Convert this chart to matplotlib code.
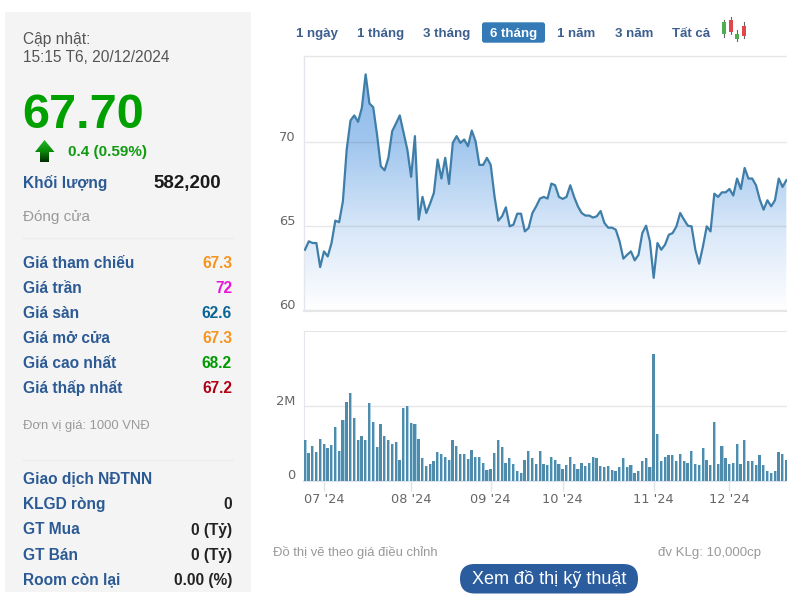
import matplotlib
matplotlib.use("Agg")
import matplotlib.pyplot as plt
import numpy as np
from matplotlib.colors import LinearSegmentedColormap
from matplotlib.patches import FancyBboxPatch, Polygon, Rectangle

plt.rcParams["font.family"] = ["Liberation Sans", "DejaVu Sans"]

W, H = 787, 601

prices = [
    63.59, 64.09, 63.99, 63.99, 62.56, 63.49, 63.19, 63.99, 65.32, 65.22, 66.47, 69.54, 71.27, 71.57, 71.19, 72.02,
    74.01, 72.28, 72.06, 70.44, 68.55, 68.31, 69.05, 70.63, 71.09, 71.57, 70.54, 69.54, 67.92, 70.34, 65.38, 66.73,
    65.77, 66.33, 66.96, 68.95, 67.82, 69.05, 67.50, 69.94, 70.34, 69.94, 70.14, 69.74, 70.67, 70.04, 68.63, 68.63,
    69.05, 68.63, 66.77, 65.32, 65.58, 66.11, 64.98, 65.08, 65.73, 65.73, 64.68, 64.88, 65.77, 66.17, 66.63, 66.73,
    66.63, 67.52, 67.42, 66.73, 66.61, 66.73, 67.42, 66.73, 66.17, 65.77, 65.62, 65.62, 65.50, 65.58, 65.89, 65.18,
    64.90, 64.90, 64.78, 64.09, 63.06, 63.29, 63.49, 62.96, 63.29, 64.58, 65.02, 64.09, 61.92, 63.99, 63.59, 63.89,
    64.48, 64.58, 64.98, 65.77, 65.38, 65.02, 64.98, 63.59, 62.76, 63.79, 64.98, 64.68, 66.92, 66.73, 67.00, 67.00,
    67.20, 66.81, 67.82, 67.20, 68.45, 67.82, 67.82, 67.42, 66.57, 65.97, 66.53, 66.17, 66.53, 67.82, 67.32, 67.72,
]
volumes = [
    1.09, 0.74, 0.93, 0.77, 1.12, 1.00, 0.87, 0.97, 1.45, 0.81, 1.64, 2.13, 2.35, 1.68, 1.09, 1.19,
    1.09, 2.10, 1.58, 0.91, 1.52, 1.19, 1.09, 1.00, 1.03, 0.55, 1.97, 2.00, 1.54, 1.52, 1.13, 0.61,
    0.39, 0.45, 0.52, 0.77, 0.71, 0.65, 0.55, 1.09, 0.93, 0.71, 0.71, 0.58, 0.83, 0.65, 0.65, 0.48,
    0.29, 0.32, 0.74, 1.09, 0.91, 0.48, 0.61, 0.45, 0.26, 0.22, 0.55, 0.81, 0.61, 0.45, 0.81, 0.45,
    0.42, 0.65, 0.55, 0.45, 0.32, 0.42, 0.65, 0.45, 0.32, 0.48, 0.39, 0.48, 0.65, 0.61, 0.39, 0.36,
    0.39, 0.29, 0.26, 0.36, 0.61, 0.36, 0.42, 0.22, 0.26, 0.52, 0.61, 0.36, 3.40, 1.26, 0.52, 0.65,
    0.68, 0.68, 0.52, 0.71, 0.52, 0.48, 0.81, 0.45, 0.42, 0.87, 0.55, 0.42, 1.58, 0.45, 0.93, 0.61,
    0.45, 0.48, 1.00, 0.45, 1.09, 0.52, 0.52, 0.42, 0.68, 0.42, 0.26, 0.20, 0.26, 0.77, 0.71, 0.55,
]
month_idx = [5, 28, 49, 68, 92, 112]
month_labels = ["07 '24", "08 '24", "09 '24", "10 '24", "11 '24", "12 '24"]

range_labels = ["1 ngày", "1 tháng", "3 tháng", "6 tháng", "1 năm", "3 năm", "Tất cả"]
range_x = [317, 381, 447, 513.5, 576, 633.7, 691]

info_labels = ["Giá tham chiếu", "Giá trần", "Giá sàn", "Giá mở cửa", "Giá cao nhất", "Giá thấp nhất"]
info_values = ["67.3", "72", "62.6", "67.3", "68.2", "67.2"]
info_colors = ["#f7941d", "#e815d8", "#0a6496", "#f7941d", "#009a00", "#b00014"]

foreign_labels = ["Giao dịch NĐTNN", "KLGD ròng", "GT Mua", "GT Bán", "Room còn lại"]
foreign_values = ["", "0", "0 (Tỷ)", "0 (Tỷ)", "0.00 (%)"]

NAVY = "#2c5a94"
GRID = "#e6e6e6"
LINE = "#3f7ea8"
AXIS_TEXT = "#666666"
XPAD = 3.79


def px_axes(fig, left, top, right, bottom):
    return fig.add_axes([left / W, 1 - bottom / H, (right - left) / W, (bottom - top) / H])


def y_label(ax, text, value):
    # labels sit just above their gridline, not centred on it
    ax.annotate(text, (0, value), xycoords=ax.get_yaxis_transform(), xytext=(-6, -1.2),
                textcoords="offset points", ha="right", va="bottom", fontsize=9.4,
                color=AXIS_TEXT, family="DejaVu Sans", annotation_clip=False)


fig = plt.figure(figsize=(W / 100, H / 100), dpi=100, facecolor="white")

# page layer in pixel coordinates
bg = fig.add_axes([0, 0, 1, 1], zorder=0)
bg.set_xlim(0, W)
bg.set_ylim(H, 0)
bg.axis("off")

bg.add_patch(Rectangle((5, 12), 246, 580, fc="#f4f4f4", ec="none"))
bg.text(23, 44.3, "Cập nhật:", fontsize=11.2, color="#555555")
bg.text(23, 62.3, "15:15 T6, 20/12/2024", fontsize=11.2, color="#555555")
bg.text(22, 128.3, "67.70", fontsize=35, fontweight="bold", color="#00a000")
bg.text(68, 156, "0.4 (0.59%)", fontsize=11, fontweight="bold", color="#119a11")
bg.text(23, 188.3, "Khối lượng", fontsize=11.2, fontweight="bold", color=NAVY)
bg.text(221, 188, "582,200", fontsize=13.5, fontweight="bold", color="#1a1a1a", ha="right")
bg.text(23, 221, "Đóng cửa", fontsize=11, color="#999999")
bg.plot([23, 233], [237.5, 237.5], color="#ebebeb", lw=0.8)
bg.plot([23, 233], [459.5, 459.5], color="#ebebeb", lw=0.8)

# up arrow
arrow_cmap = LinearSegmentedColormap.from_list("arrow", ["#24b824", "#0a8a0a", "#022f02"])
arrow_img = bg.imshow(np.linspace(0, 1, 32)[:, None], cmap=arrow_cmap, extent=(34, 55, 162, 140), aspect="auto", zorder=2)
arrow_clip = Polygon([(44.5, 140), (54.5, 152), (49, 152), (49, 162), (40, 162), (40, 152), (35, 152)],
                     transform=bg.transData, fc="none", ec="none")
bg.add_patch(arrow_clip)
arrow_img.set_clip_path(arrow_clip)
bg.set_xlim(0, W)
bg.set_ylim(H, 0)

for i, (lab, val, col) in enumerate(zip(info_labels, info_values, info_colors)):
    y = 268.3 + i * 25
    bg.text(23, y, lab, fontsize=11.2, fontweight="bold", color=NAVY)
    bg.text(232, y, val, fontsize=11.2, fontweight="bold", color=col, ha="right")
bg.text(23, 429, "Đơn vị giá: 1000 VNĐ", fontsize=9.4, color="#999999")

for i, (lab, val) in enumerate(zip(foreign_labels, foreign_values)):
    y = 484.3 + i * 25.1
    bg.text(23, y, lab, fontsize=11.2, fontweight="bold", color=NAVY)
    bg.text(232, y, val, fontsize=11.2, fontweight="bold", color="#222222", ha="right")

# range selector
bg.add_patch(FancyBboxPatch((482, 22.3), 63, 20.4, boxstyle="round,pad=0,rounding_size=2.5", fc="#337ab7", ec="none"))
for lab, x in zip(range_labels, range_x):
    selected = lab == "6 tháng"
    bg.text(x, 37.3, lab, fontsize=9.5, fontweight="bold", ha="center",
            color="white" if selected else "#3c5f8e", zorder=3)

# candlestick icon next to the selector
for x, top, bottom, ctop, cbot, col in [(724.3, 20, 37, 22, 34, "#4caf50"), (730.7, 17, 34, 20, 32, "#e0474c"),
                                        (737.3, 30, 41, 34, 39, "#4caf50"), (744, 22, 38, 26, 36, "#e0474c")]:
    bg.plot([x, x], [top, bottom], color="#666666", lw=0.8)
    bg.add_patch(Rectangle((x - 2, ctop), 4, cbot - ctop, fc=col, ec="none", zorder=3))

# footer
bg.text(273, 556, "Đồ thị vẽ theo giá điều chỉnh", fontsize=9.4, color="#999999")
bg.text(761, 556, "đv KLg: 10,000cp", fontsize=9.5, color="#999999", ha="right")
bg.add_patch(FancyBboxPatch((460, 564), 178, 29.5, boxstyle="round,pad=0,rounding_size=14.7", fc="#2b5c9e", ec="none"))
bg.text(549, 584, "Xem đồ thị kỹ thuật", fontsize=13, color="white", ha="center")

x_vals = np.arange(len(prices))
x_left = (303.5 - 305) / XPAD
x_right = (W - 305) / XPAD

# price panel
ax = px_axes(fig, 303.5, 56, W, 311)
ax.set_zorder(1)
ax.patch.set_alpha(0)
ax.set_xlim(x_left, x_right)
ax.set_ylim(59.95, 75.1)
fill_cmap = LinearSegmentedColormap.from_list("fill", ["#ffffff", "#d6e6f8", "#a0c6ee", "#86b6e9"])
fill_img = ax.imshow(np.linspace(0, 1, 256)[:, None], cmap=fill_cmap, origin="lower", aspect="auto",
                     extent=(x_left, x_right, 59.95, 75.1), zorder=1)
area = ax.fill_between(x_vals, prices, 59.95, color="none")
fill_img.set_clip_path(area.get_paths()[0], transform=ax.transData)
ax.set_yticks([60, 65, 70])
ax.set_yticklabels([])
ax.set_xticks([])
for tick in [60, 65, 70]:
    ax.axhline(tick, color=(0.25, 0.25, 0.35, 0.12), lw=1, zorder=2)
    y_label(ax, str(tick), tick)
ax.plot(x_vals, prices, color=LINE, lw=1.6, zorder=3, solid_joinstyle="round")
for side in ["right", "bottom"]:
    ax.spines[side].set_visible(False)
ax.spines["top"].set_color(GRID)
ax.spines["left"].set_color("#e4e6ee")
ax.spines["top"].set_linewidth(1)
ax.spines["left"].set_linewidth(1)
ax.tick_params(axis="y", length=0)
ax.plot([x_left, x_right], [59.95, 59.95], color=GRID, lw=1.5, clip_on=False, zorder=2)

# volume panel
vx = px_axes(fig, 303.5, 331, W, 480.7)
vx.set_zorder(1)
vx.patch.set_alpha(0)
vx.set_xlim(x_left, x_right)
vx.set_ylim(0, 4.03)
vx.bar(x_vals + 0.05, volumes, width=0.76, color="#a9d0e4", zorder=3)
vx.bar(x_vals - 0.08, volumes, width=0.6, color="#4f8cab", zorder=4)
vx.set_yticks([0, 2])
vx.set_yticklabels([])
y_label(vx, "0", 0)
y_label(vx, "2M", 2)
vx.set_xticks(month_idx)
vx.set_xticklabels(month_labels, family="DejaVu Sans")
vx.grid(axis="y", color=GRID, lw=1, zorder=1)
vx.set_axisbelow(True)
vx.spines["right"].set_visible(False)
vx.spines["top"].set_color(GRID)
vx.spines["left"].set_color("#e4e6ee")
vx.spines["bottom"].set_color("#dfe3ec")
vx.spines["bottom"].set_linewidth(1.5)
vx.tick_params(axis="y", length=0)
vx.tick_params(axis="x", length=7.5, width=1, color="#dfe3ec", labelsize=9.3, labelcolor=AXIS_TEXT, pad=1.5)

fig.savefig("out.png", dpi=100)
